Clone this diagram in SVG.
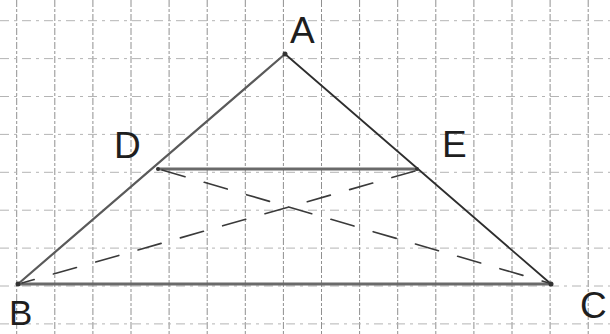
<svg xmlns="http://www.w3.org/2000/svg" width="610" height="334" viewBox="0 0 610 334">
<defs>
<style>
.gv{stroke:#909090;stroke-width:1;stroke-dasharray:7 2 3 2}
.gh{stroke:#b4b4b4;stroke-width:1;stroke-dasharray:9 5 3 5}
.side{stroke:#5a5a5a;stroke-width:2.2;fill:none;stroke-linecap:round}
.dark{stroke:#2e2e2e;stroke-width:1.8;fill:none;stroke-linecap:round}
.mid{stroke:#6a6a6a;stroke-width:3;fill:none;stroke-linecap:round}
.dash{stroke:#3a3a3a;stroke-width:1.6;fill:none;stroke-dasharray:24 20;stroke-linecap:round}
.lbl{font-family:"Liberation Sans","DejaVu Sans",sans-serif;font-size:37px;fill:#1e1e1e;font-weight:normal}
.pt{fill:#333}
</style>
</defs>
<rect width="610" height="334" fill="#ffffff"/>
<g id="grid">
<line class="gv" x1="16.7" y1="0" x2="16.7" y2="334"/>
<line class="gv" x1="54.8" y1="0" x2="54.8" y2="334"/>
<line class="gv" x1="92.9" y1="0" x2="92.9" y2="334"/>
<line class="gv" x1="131" y1="0" x2="131" y2="334"/>
<line class="gv" x1="169.1" y1="0" x2="169.1" y2="334"/>
<line class="gv" x1="207.2" y1="0" x2="207.2" y2="334"/>
<line class="gv" x1="245.3" y1="0" x2="245.3" y2="334"/>
<line class="gv" x1="283.4" y1="0" x2="283.4" y2="334"/>
<line class="gv" x1="321.5" y1="0" x2="321.5" y2="334"/>
<line class="gv" x1="359.6" y1="0" x2="359.6" y2="334"/>
<line class="gv" x1="397.7" y1="0" x2="397.7" y2="334"/>
<line class="gv" x1="435.8" y1="0" x2="435.8" y2="334"/>
<line class="gv" x1="473.9" y1="0" x2="473.9" y2="334"/>
<line class="gv" x1="512" y1="0" x2="512" y2="334"/>
<line class="gv" x1="550.1" y1="0" x2="550.1" y2="334"/>
<line class="gv" x1="588.2" y1="0" x2="588.2" y2="334"/>
<line class="gh" x1="0" y1="20.7" x2="610" y2="20.7"/>
<line class="gh" x1="0" y1="58.6" x2="610" y2="58.6"/>
<line class="gh" x1="0" y1="96.5" x2="610" y2="96.5"/>
<line class="gh" x1="0" y1="134.4" x2="610" y2="134.4"/>
<line class="gh" x1="0" y1="172.3" x2="610" y2="172.3"/>
<line class="gh" x1="0" y1="210.2" x2="610" y2="210.2"/>
<line class="gh" x1="0" y1="248.1" x2="610" y2="248.1"/>
<line class="gh" x1="0" y1="286" x2="610" y2="286"/>
<line class="gh" x1="0" y1="323.9" x2="610" y2="323.9"/>
</g>
<g id="connectors">
<line class="side" x1="285" y1="54" x2="18" y2="284"/>
<line class="dark" x1="285" y1="54" x2="551" y2="284"/>
<line class="mid" x1="18" y1="284" x2="551" y2="284"/>
<line class="mid" x1="158" y1="169" x2="417" y2="169"/>
<line class="dash" x1="162" y1="170" x2="549" y2="283"/>
<line class="dash" x1="415" y1="171" x2="22" y2="283"/>
</g>
<g id="node-A"><circle class="pt" cx="285" cy="54" r="2.5"/><text class="lbl" x="290" y="43">A</text></g>
<g id="node-B"><circle class="pt" cx="18" cy="284" r="2.5"/><text class="lbl" x="9" y="325" style="font-size:35px">B</text></g>
<g id="node-C"><circle class="pt" cx="551" cy="284" r="2.5"/><text class="lbl" x="580" y="318">C</text></g>
<g id="node-D"><circle class="pt" cx="158" cy="169" r="2"/><text class="lbl" x="114" y="158">D</text></g>
<g id="node-E"><circle class="pt" cx="417" cy="169" r="2"/><text class="lbl" x="442" y="157">E</text></g>
</svg>
